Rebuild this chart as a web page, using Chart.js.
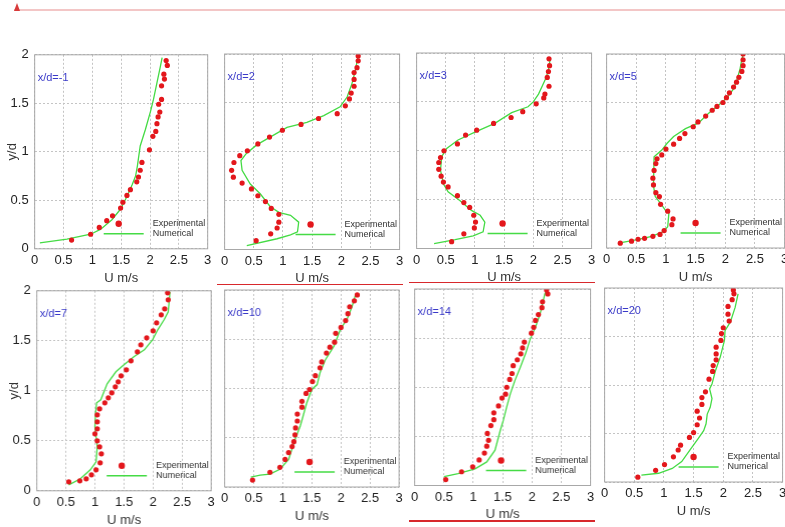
<!DOCTYPE html>
<html>
<head>
<meta charset="utf-8">
<script src="https://cdn.jsdelivr.net/npm/chart.js@4.4.1/dist/chart.umd.min.js"></script>
<style>
  html, body { margin: 0; padding: 0; background: #fff; }
  body { width: 785px; height: 527px; position: relative; overflow: hidden; }
  .panel { position: absolute; }
  .deco { position: absolute; }
</style>
</head>
<body>

<div class="deco" style="left:14px;top:9px;width:771px;height:2px;background:#f3c6c6;"></div>
<div class="deco" style="left:14px;top:3px;width:0;height:0;border-left:3.5px solid transparent;border-right:3.5px solid transparent;border-bottom:8px solid #d83a3a;"></div>
<div class="deco" style="left:217px;top:283.5px;width:186px;height:1.5px;background:#d8282c;"></div>
<div class="deco" style="left:409px;top:281.5px;width:186px;height:1.5px;background:#d8282c;"></div>
<div class="deco" style="left:409px;top:520px;width:186px;height:1.5px;background:#d8282c;"></div>

<script>
// stations
const stations = ['x/d=-1', 'x/d=2', 'x/d=3', 'x/d=5', 'x/d=7', 'x/d=10', 'x/d=14', 'x/d=20'];
const xTicks = [0, 0.5, 1, 1.5, 2, 2.5, 3];
const yTicks = [0, 0.5, 1, 1.5, 2];

// experimental points [U, y/d]
const exp1 = [[0.64,0.09],[0.97,0.15],[1.12,0.22],[1.25,0.29],[1.35,0.34],[1.49,0.42],[1.53,0.48],[1.60,0.55],[1.66,0.61],[1.77,0.69],[1.80,0.74],[1.83,0.81],[1.86,0.89],[1.99,1.02],[2.05,1.16],[2.10,1.21],[2.12,1.29],[2.14,1.36],[2.17,1.41],[2.15,1.49],[2.20,1.54],[2.20,1.68],[2.25,1.75],[2.24,1.80],[2.30,1.89],[2.28,1.94]];
const exp2 = [[0.54,0.09],[0.79,0.16],[0.90,0.22],[0.93,0.28],[0.93,0.36],[0.80,0.42],[0.70,0.49],[0.57,0.55],[0.46,0.62],[0.30,0.68],[0.15,0.74],[0.12,0.81],[0.16,0.89],[0.26,0.96],[0.39,1.01],[0.57,1.08],[0.77,1.15],[0.99,1.22],[1.31,1.28],[1.61,1.34],[1.93,1.39],[2.07,1.47],[2.14,1.54],[2.17,1.60],[2.22,1.67],[2.22,1.74],[2.22,1.81],[2.27,1.86],[2.29,1.93],[2.29,1.98]];
const exp3 = [[0.60,0.07],[0.81,0.15],[0.99,0.21],[1.01,0.27],[0.98,0.34],[0.91,0.42],[0.81,0.47],[0.70,0.54],[0.54,0.63],[0.46,0.68],[0.42,0.74],[0.38,0.81],[0.38,0.88],[0.41,0.93],[0.47,1.00],[0.70,1.07],[0.84,1.16],[1.03,1.21],[1.32,1.28],[1.62,1.34],[1.82,1.40],[2.05,1.48],[2.18,1.54],[2.20,1.58],[2.27,1.66],[2.24,1.75],[2.26,1.81],[2.28,1.87],[2.27,1.94]];
const exp4 = [[0.23,0.05],[0.42,0.07],[0.53,0.09],[0.64,0.10],[0.78,0.12],[0.90,0.14],[0.97,0.18],[1.10,0.24],[1.12,0.30],[1.03,0.38],[0.91,0.45],[0.89,0.53],[0.83,0.57],[0.79,0.65],[0.78,0.72],[0.80,0.80],[0.83,0.87],[0.85,0.92],[0.93,0.96],[1.00,1.02],[1.13,1.07],[1.23,1.13],[1.32,1.18],[1.46,1.25],[1.54,1.30],[1.67,1.36],[1.78,1.42],[1.86,1.46],[1.96,1.50],[2.02,1.55],[2.07,1.60],[2.14,1.66],[2.19,1.71],[2.23,1.76],[2.28,1.82],[2.30,1.88],[2.30,1.94],[2.30,2.00]];
const exp5 = [[0.55,0.09],[0.74,0.10],[0.85,0.12],[0.94,0.16],[1.02,0.21],[1.09,0.28],[1.11,0.37],[1.08,0.44],[1.04,0.50],[1.00,0.57],[1.04,0.62],[1.04,0.69],[1.04,0.76],[1.08,0.82],[1.17,0.88],[1.23,0.93],[1.29,0.98],[1.35,1.04],[1.40,1.09],[1.45,1.15],[1.54,1.21],[1.62,1.30],[1.73,1.39],[1.79,1.46],[1.89,1.53],[2.00,1.60],[2.06,1.68],[2.14,1.76],[2.20,1.82],[2.26,1.91],[2.25,1.98]];
const exp6 = [[0.48,0.07],[0.78,0.15],[0.95,0.20],[1.04,0.28],[1.10,0.35],[1.16,0.41],[1.19,0.46],[1.21,0.53],[1.22,0.60],[1.25,0.67],[1.25,0.74],[1.33,0.81],[1.33,0.87],[1.40,0.95],[1.46,0.99],[1.51,1.07],[1.56,1.13],[1.64,1.21],[1.67,1.27],[1.75,1.36],[1.81,1.42],[1.89,1.47],[1.91,1.56],[2.00,1.62],[2.08,1.69],[2.12,1.76],[2.15,1.83],[2.23,1.89],[2.28,1.95]];
const exp7 = [[0.53,0.06],[0.80,0.14],[0.99,0.19],[1.10,0.26],[1.19,0.33],[1.23,0.40],[1.26,0.46],[1.24,0.53],[1.30,0.61],[1.35,0.67],[1.35,0.74],[1.43,0.81],[1.49,0.89],[1.55,0.93],[1.57,1.00],[1.62,1.08],[1.66,1.14],[1.68,1.22],[1.75,1.28],[1.81,1.34],[1.84,1.40],[1.87,1.46],[1.99,1.55],[2.03,1.61],[2.06,1.68],[2.11,1.74],[2.17,1.81],[2.18,1.87],[2.27,1.95],[2.25,1.99]];
const exp8 = [[0.56,0.05],[0.86,0.12],[1.01,0.18],[1.16,0.26],[1.24,0.33],[1.28,0.38],[1.43,0.46],[1.50,0.51],[1.56,0.59],[1.60,0.66],[1.56,0.73],[1.64,0.80],[1.64,0.87],[1.70,0.93],[1.76,1.06],[1.82,1.14],[1.83,1.20],[1.88,1.26],[1.88,1.32],[1.88,1.39],[1.96,1.46],[1.97,1.53],[2.00,1.59],[2.10,1.66],[2.08,1.73],[2.08,1.81],[2.15,1.88],[2.18,1.94],[2.17,1.98]];

// numerical profiles [U, y/d]
const num1 = [[0.09,0.06],[0.56,0.10],[0.97,0.15],[1.14,0.20],[1.34,0.30],[1.49,0.41],[1.60,0.54],[1.69,0.66],[1.75,0.75],[1.78,0.85],[1.83,1.06],[1.92,1.23],[2.01,1.42],[2.06,1.54],[2.12,1.71],[2.18,1.88],[2.21,1.97]];
const num2 = [[0.38,0.04],[0.90,0.11],[1.13,0.15],[1.25,0.18],[1.27,0.28],[1.13,0.35],[0.93,0.38],[0.78,0.44],[0.61,0.57],[0.44,0.67],[0.30,0.81],[0.28,0.91],[0.37,0.98],[0.55,1.07],[0.78,1.15],[1.07,1.25],[1.41,1.30],[1.70,1.37],[1.98,1.46],[2.10,1.56],[2.18,1.69],[2.24,1.83],[2.29,1.98]];
const num3 = [[0.30,0.05],[0.66,0.09],[0.97,0.13],[1.14,0.17],[1.17,0.27],[1.09,0.34],[0.94,0.39],[0.74,0.49],[0.54,0.58],[0.46,0.66],[0.41,0.80],[0.43,0.94],[0.51,1.02],[0.71,1.11],[1.00,1.19],[1.34,1.28],[1.63,1.39],[1.91,1.45],[2.00,1.50],[2.09,1.58],[2.20,1.72],[2.26,1.82],[2.29,1.94]];
const num4 = [[0.20,0.05],[0.54,0.09],[0.76,0.12],[0.96,0.17],[1.03,0.22],[1.05,0.36],[1.00,0.38],[0.91,0.46],[0.82,0.53],[0.79,0.64],[0.80,0.94],[0.93,1.01],[1.02,1.08],[1.13,1.15],[1.33,1.23],[1.55,1.29],[1.72,1.39],[1.94,1.50],[2.03,1.55],[2.14,1.64],[2.20,1.74],[2.25,1.85],[2.28,1.95],[2.31,2.00]];
const num5 = [[0.55,0.06],[0.75,0.12],[0.92,0.21],[1.02,0.29],[1.04,0.44],[1.00,0.64],[1.01,0.77],[1.03,0.88],[1.10,0.91],[1.21,1.07],[1.36,1.19],[1.50,1.26],[1.67,1.34],[1.85,1.41],[1.99,1.51],[2.08,1.61],[2.19,1.71],[2.26,1.79],[2.28,1.91],[2.29,1.99]];
const num6 = [[0.45,0.10],[0.61,0.12],[0.78,0.13],[0.95,0.18],[1.10,0.28],[1.21,0.48],[1.30,0.62],[1.33,0.68],[1.41,0.85],[1.50,0.99],[1.59,1.04],[1.64,1.16],[1.73,1.29],[1.88,1.43],[1.99,1.60],[2.11,1.71],[2.19,1.83],[2.25,1.95]];
const num7 = [[0.50,0.09],[0.74,0.12],[1.03,0.17],[1.23,0.24],[1.37,0.36],[1.46,0.56],[1.51,0.66],[1.57,0.80],[1.63,0.93],[1.71,1.07],[1.80,1.20],[1.89,1.34],[1.97,1.49],[2.06,1.61],[2.14,1.75],[2.22,1.95],[2.23,2.00]];
const num8 = [[0.62,0.07],[0.91,0.09],[1.14,0.14],[1.30,0.21],[1.44,0.33],[1.58,0.45],[1.67,0.53],[1.71,0.60],[1.73,0.70],[1.78,0.77],[1.81,0.86],[1.77,0.96],[1.81,1.01],[1.87,1.15],[1.95,1.29],[2.02,1.46],[2.03,1.56],[2.12,1.65],[2.20,1.80],[2.25,1.94]];

const expSets = [exp1, exp2, exp3, exp4, exp5, exp6, exp7, exp8];
const numSets = [num1, num2, num3, num4, num5, num6, num7, num8];

// plot area of each panel on the page: left, top, width, height
const boxes = [
    [34.5, 55, 173, 194], [224.5, 53.5, 175, 195.5], [416.5, 52.5, 175, 195.5], [606.5, 54, 178, 194],
    [36.5, 290.5, 173.5, 200], [225, 290, 173.5, 197], [415, 288.5, 175, 196.5], [604.5, 287.5, 178, 194]
];

const FONT = '"Liberation Sans", Arial, sans-serif';
Chart.defaults.font.family = FONT;
Chart.defaults.font.size = 13;
Chart.defaults.color = '#222';

const panelDeco = {
    id: 'panelDeco',
    afterDatasetsDraw(chart) {
        const a = chart.chartArea;
        const ctx = chart.ctx;
        const ds = chart.data.datasets;
        const tx = a.right - 55, y1 = a.bottom - 25, y2 = a.bottom - 15;
        ctx.save();
        ctx.strokeStyle = '#a8a8a8';
        ctx.lineWidth = 1;
        ctx.strokeRect(a.left, a.top, a.right - a.left, a.bottom - a.top);
        // legend
        ctx.fillStyle = ds[0].backgroundColor;
        ctx.beginPath();
        ctx.arc(tx - 34, y1, 3.2, 0, Math.PI * 2);
        ctx.fill();
        ctx.strokeStyle = ds[1].borderColor;
        ctx.lineWidth = 1.4;
        ctx.beginPath();
        ctx.moveTo(tx - 49, y2);
        ctx.lineTo(tx - 9, y2);
        ctx.stroke();
        ctx.fillStyle = '#333';
        ctx.font = '9px ' + FONT;
        ctx.textBaseline = 'middle';
        ctx.fillText(ds[0].label, tx, y1);
        ctx.fillText(ds[1].label, tx, y2);
        // station label
        ctx.fillStyle = '#3a3ac8';
        ctx.font = '11px ' + FONT;
        ctx.fillText(chart.options.plugins.panelDeco.station, a.left + 3, a.top + 23);
        ctx.restore();
    }
};

function toPoints(pairs) {
    return pairs.map(p => ({x: p[0], y: p[1]}));
}

function makePanel(i) {
    const div = document.createElement('div');
    div.className = 'panel';
    const b = boxes[i];
    div.style.left = (b[0] - 50) + 'px';
    div.style.top = (b[1] - 10) + 'px';
    div.style.width = (b[2] + 60) + 'px';
    div.style.height = (b[3] + 40) + 'px';
    const canvas = document.createElement('canvas');
    div.appendChild(canvas);
    document.body.appendChild(div);

    const leftCol = (i % 4 === 0);
    const grid = {color: '#c4c4c4', lineWidth: 1, drawTicks: false};
    const chart = new Chart(canvas, {
        type: 'scatter',
        data: {
            datasets: [{
                label: 'Experimental',
                data: toPoints(expSets[i]),
                backgroundColor: '#e3171c',
                borderWidth: 0,
                pointRadius: 2.6,
                order: 0
            }, {
                label: 'Numerical',
                data: toPoints(numSets[i]),
                showLine: true,
                borderColor: '#45db45',
                borderWidth: 1.3,
                pointRadius: 0,
                tension: 0,
                order: 1
            }]
        },
        options: {
            responsive: true,
            maintainAspectRatio: false,
            animation: false,
            plugins: {
                legend: {display: false},
                tooltip: {enabled: false},
                panelDeco: {station: stations[i]}
            },
            scales: {
                x: {
                    type: 'linear',
                    min: 0, max: 3,
                    afterBuildTicks: s => { s.ticks = xTicks.map(v => ({value: v})); },
                    ticks: {padding: 4, color: '#222', callback: v => String(v)},
                    grid: grid,
                    border: {display: false, dash: [2, 2]},
                    title: {display: true, text: 'U m/s', color: '#333', padding: {top: -2, bottom: 0}}
                },
                y: {
                    type: 'linear',
                    min: 0, max: 2,
                    afterBuildTicks: s => { s.ticks = yTicks.map(v => ({value: v})); },
                    ticks: {display: leftCol, padding: 6, color: '#222', callback: v => String(v)},
                    grid: grid,
                    border: {display: false, dash: [2, 2]},
                    title: {display: leftCol, text: 'y/d', color: '#333', padding: {top: 0, bottom: -16}}
                }
            }
        },
        plugins: [panelDeco]
    });

    // move the canvas so the plot area lands on its box
    const a = chart.chartArea;
    const rightGap = chart.width - a.right, bottomGap = chart.height - a.bottom;
    div.style.left = (b[0] - a.left) + 'px';
    div.style.top = (b[1] - a.top) + 'px';
    div.style.width = (b[2] + a.left + rightGap) + 'px';
    div.style.height = (b[3] + a.top + bottomGap) + 'px';
    chart.resize();
}

function ShowPanels() {
    for (let i = 0; i < stations.length; i++) {
        makePanel(i);
    }
}

window.addEventListener('load', ShowPanels);
</script>
</body>
</html>
